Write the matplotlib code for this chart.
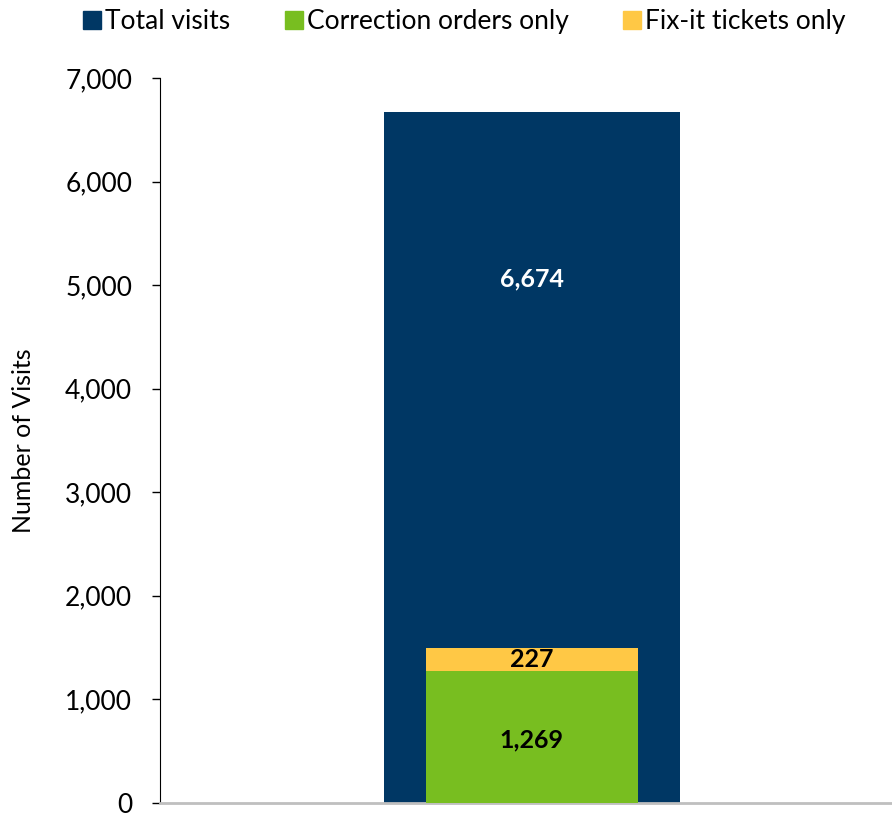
import matplotlib.pyplot as plt
from matplotlib.lines import Line2D

# ------------------ DATA ------------------
categories = ["Visits"]
total_visits = [6674]
correction_orders = [1269]
fixit_tickets = [227]
legend_labels = ["Total visits", "Correction orders only", "Fix-it tickets only"]

navy = "#003764"
green = "#78BE20"
yellow = "#FFC845"

plt.rcParams["font.family"] = ["Lato", "DejaVu Sans"]

fig = plt.figure(figsize=(8.92, 8.18), dpi=100)
ax = fig.add_axes([0.1794, 0.0185, 0.8206, 0.8861])

x = [0]
ax.bar(x, total_visits, width=0.404, color=navy, zorder=2)
ax.bar(x, correction_orders, width=0.29, color=green, zorder=3)
ax.bar(x, fixit_tickets, width=0.29, bottom=correction_orders, color=yellow, zorder=3)

# value labels
ax.text(x[0], 5060, f"{total_visits[0]:,}", ha="center", va="center",
        color="white", fontsize=18, fontweight="bold", zorder=4)
ax.text(x[0], correction_orders[0] / 2 - 30, f"{correction_orders[0]:,}", ha="center",
        va="center", color="black", fontsize=18, fontweight="bold", zorder=4)
ax.text(x[0], correction_orders[0] + fixit_tickets[0] / 2, f"{fixit_tickets[0]:,}",
        ha="center", va="center", color="black", fontsize=18, fontweight="bold", zorder=4)

ax.set_xlim(-0.508, 0.492)
ax.set_ylim(0, 7000)
ax.set_yticks(range(0, 7001, 1000))
ax.set_yticklabels([f"{v:,}" for v in range(0, 7001, 1000)], fontsize=19)
ax.set_xticks([])
ax.tick_params(axis="y", length=6, width=1, direction="out", pad=14)
ax.set_ylabel("Number of Visits", fontsize=18, labelpad=22)

for s in ["top", "right"]:
    ax.spines[s].set_visible(False)
ax.spines["left"].set_color("black")
ax.spines["bottom"].set_color("#BFBFBF")
ax.spines["bottom"].set_linewidth(2)

handles = [Line2D([0], [0], marker="s", linestyle="none", markersize=13,
                  markerfacecolor=c, markeredgecolor=c) for c in [navy, green, yellow]]
fig.legend(handles, legend_labels, loc="upper center", bbox_to_anchor=(0.52, 1.018),
           ncol=3, frameon=False, fontsize=19, handletextpad=0.1, columnspacing=2.0,
           handlelength=0.8)

fig.savefig("out.png", dpi=100)
